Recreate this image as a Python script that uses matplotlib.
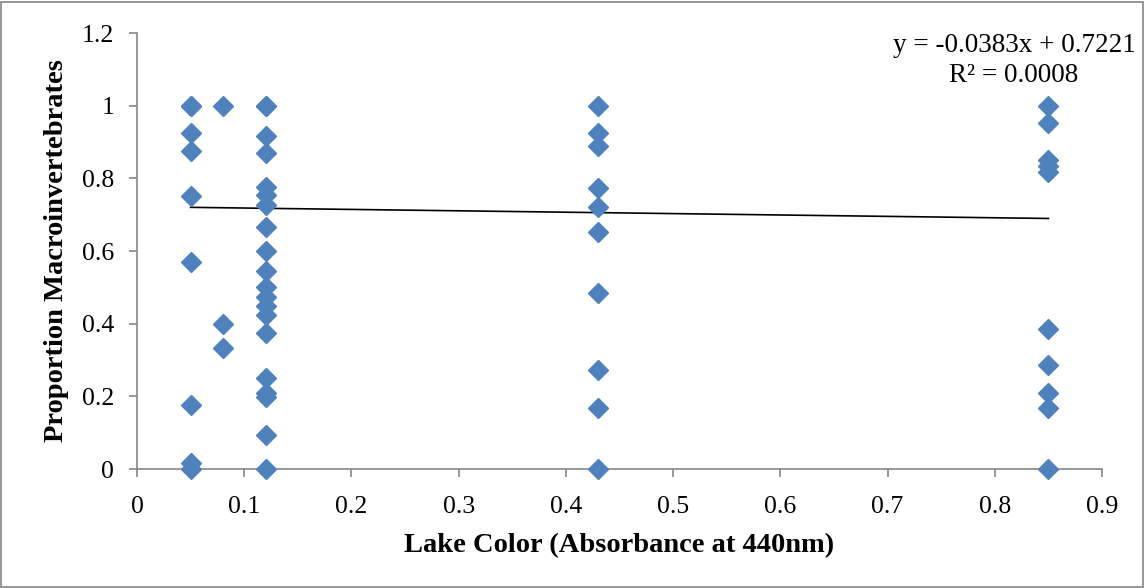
import matplotlib
matplotlib.use("Agg")
import matplotlib.pyplot as plt
from matplotlib.patches import Rectangle
import numpy as np

plt.rcParams['font.family'] = ['Liberation Serif', 'DejaVu Serif']

x_vals = [0.05]*9 + [0.08]*3 + [0.12]*20 + [0.43]*10 + [0.85]*10
y_vals = [1.0, 1.0, 0.924, 0.875, 0.751, 0.571, 0.176, 0.016, 0.0,
          1.0, 0.399, 0.333,
          1.0, 0.917, 0.870, 0.775, 0.754, 0.727, 0.667, 0.600, 0.545, 0.500,
          0.474, 0.450, 0.424, 0.375, 0.250, 0.209, 0.197, 0.094, 0.0, 1.0,
          1.0, 0.924, 0.890, 0.773, 0.722, 0.653, 0.485, 0.272, 0.167, 0.0,
          1.0, 0.953, 0.850, 0.834, 0.818, 0.385, 0.286, 0.208, 0.167, 0.0]
slope = -0.0383
intercept = 0.7221
r2 = 0.0008

x_ticks = [0, 0.1, 0.2, 0.3, 0.4, 0.5, 0.6, 0.7, 0.8, 0.9]
y_ticks = [0, 0.2, 0.4, 0.6, 0.8, 1.0, 1.2]

fig = plt.figure(figsize=(11.45, 5.88), dpi=100)
W, H = 1145, 588
ax = fig.add_axes([137/W, 1-469/H, (1102-137)/W, (469-33)/H])

ax.plot(x_vals, y_vals, linestyle='none', marker='D', markersize=10.5,
        color='#4F81BD', markeredgecolor='#4F81BD', zorder=3, clip_on=False)
xl = np.array([min(x_vals), max(x_vals)])
ax.plot(xl, slope*xl + intercept, color='black', lw=1.2, zorder=2)

ax.set_xlim(0, 0.9)
ax.set_ylim(0, 1.2)
ax.set_xticks(x_ticks)
ax.set_xticklabels(['0', '0.1', '0.2', '0.3', '0.4', '0.5', '0.6', '0.7', '0.8', '0.9'])
ax.set_yticks(y_ticks)
ax.set_yticklabels(['0', '0.2', '0.4', '0.6', '0.8', '1', '1.2'])
for s in ['top', 'right']:
    ax.spines[s].set_visible(False)
for s in ['left', 'bottom']:
    ax.spines[s].set_color('#868686')
    ax.spines[s].set_linewidth(1.2)
ax.tick_params(axis='both', direction='out', length=5.5, color='#868686',
               labelsize=18.5, width=1.2)
ax.tick_params(axis='x', pad=14)
ax.tick_params(axis='y', pad=11)

ax.set_xlabel('Lake Color (Absorbance at 440nm)', fontsize=20.5, fontweight='bold', labelpad=11)
fig.text(57/W, 1-251/H, 'Proportion Macroinvertebrates', fontsize=20.5, fontweight='bold',
         rotation=90, ha='center', va='center')

fig.text(1014/W, 1-46/H, f'y = {slope:.4f}x + {intercept:.4f}', fontsize=19.5,
         ha='center', va='center')
fig.text(1014/W, 1-76/H, f'R\u00b2 = {r2:.4f}', fontsize=19.5, ha='center', va='center')

fig.patches.append(Rectangle((1/W, 1/H), (W-3)/W, (H-3)/H, transform=fig.transFigure,
                             fill=False, edgecolor='#868686', lw=1.2))

fig.savefig('out.png', dpi=100)
